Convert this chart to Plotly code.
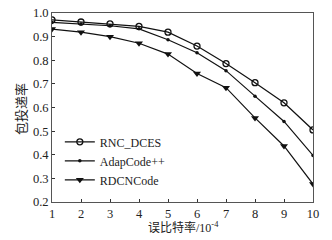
import plotly.graph_objects as go

x_vals = [1, 2, 3, 4, 5, 6, 7, 8, 9, 10]
rnc_dces = [0.971, 0.962, 0.954, 0.943, 0.919, 0.860, 0.786, 0.705, 0.620, 0.505]
adapcode = [0.960, 0.953, 0.946, 0.933, 0.887, 0.832, 0.756, 0.648, 0.541, 0.397]
rdcncode = [0.932, 0.919, 0.900, 0.872, 0.826, 0.744, 0.684, 0.556, 0.437, 0.276]
series_names = ["RNC_DCES", "AdapCode++", "RDCNCode"]
x_ticks = [1, 2, 3, 4, 5, 6, 7, 8, 9, 10]
y_ticks = [0.2, 0.3, 0.4, 0.5, 0.6, 0.7, 0.8, 0.9, 1.0]
x_title = "误比特率/10<sup>-4</sup>"
y_title = "包投递率"

serif = "Liberation Serif"
cjk = "Liberation Serif, Noto Sans CJK SC"

W, H = 332, 240
L, R, T, B = 52, 19, 13, 38

fig = go.Figure()
fig.add_trace(go.Scatter(x=x_vals, y=rnc_dces, name=series_names[0], mode="lines+markers",
                         line=dict(color="#111", width=1.2),
                         marker=dict(symbol="circle-open", size=6, color="#111", line=dict(width=1.3))))
fig.add_trace(go.Scatter(x=x_vals, y=adapcode, name=series_names[1], mode="lines+markers",
                         line=dict(color="#111", width=1.2),
                         marker=dict(symbol="circle", size=3.5, color="#111")))
fig.add_trace(go.Scatter(x=x_vals, y=rdcncode, name=series_names[2], mode="lines+markers",
                         line=dict(color="#111", width=1.2),
                         marker=dict(symbol="triangle-down", size=7, color="#111")))

axis_common = dict(showline=True, linecolor="#555", linewidth=1, mirror=True, automargin=False,
                   ticks="inside", ticklen=3, tickcolor="#333", showgrid=False, zeroline=False,
                   tickfont=dict(family=serif, size=12.5, color="#222"))
pw = W - L - R
ph = H - T - B
fig.update_layout(
    width=W, height=H,
    margin=dict(l=L, r=R, t=T, b=B, autoexpand=False),
    paper_bgcolor="white", plot_bgcolor="white",
    showlegend=True,
    legend=dict(x=0.03, y=0.395, xanchor="left", yanchor="top", bgcolor="rgba(0,0,0,0)",
                font=dict(family=serif, size=12, color="#222"), itemwidth=30, tracegroupgap=0),
    xaxis=dict(range=[1, 10], tickvals=x_ticks, ticktext=[str(v) for v in x_ticks], **axis_common),
    yaxis=dict(range=[0.2, 1.0], tickvals=y_ticks, ticktext=[f"{v:.1f}" for v in y_ticks], **axis_common),
    annotations=[
        dict(text=x_title, xref="paper", yref="paper", x=(183 - L) / pw, y=-(227 - T - ph) / ph,
             xanchor="center", yanchor="middle", showarrow=False,
             font=dict(family=cjk, size=12, color="#222")),
        dict(text=y_title, xref="paper", yref="paper", x=-(L - 21) / pw, y=(H - B - 109) / ph,
             xanchor="center", yanchor="middle", showarrow=False, textangle=-90,
             font=dict(family=cjk, size=13, color="#222")),
    ],
)
fig.write_html("out.html", config={"displayModeBar": False},
               post_script="document.body.style.margin='0';document.body.style.overflow='hidden';")
